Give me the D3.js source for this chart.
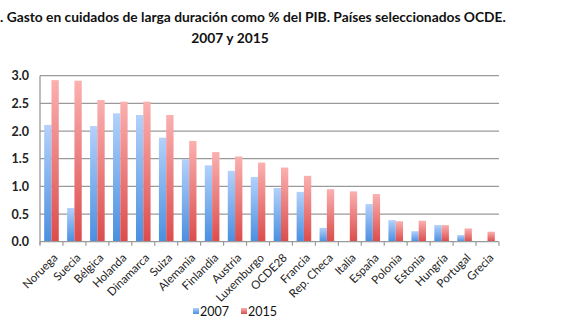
<!DOCTYPE html>
<html><head><meta charset="utf-8">
<script src="https://cdn.jsdelivr.net/npm/d3@7"></script>
<style>body{margin:0;background:#fff}svg{display:block}text{font-family:Lato,"Open Sans",sans-serif}</style>
</head><body><svg id="c" width="571" height="330"></svg>
<script>
const categories = ["Noruega","Suecia","Bélgica","Holanda","Dinamarca","Suiza","Alemania","Finlandia","Austria","Luxemburgo","OCDE28","Francia","Rep. Checa","Italia","España","Polonia","Estonia","Hungría","Portugal","Grecia"];
const values2007 = [2.11,0.61,2.09,2.32,2.29,1.88,1.49,1.38,1.28,1.17,0.97,0.90,0.25,null,0.68,0.39,0.19,0.30,0.12,null];
const values2015 = [2.92,2.91,2.56,2.53,2.53,2.29,1.82,1.62,1.54,1.43,1.34,1.19,0.95,0.91,0.86,0.37,0.38,0.30,0.24,0.18];
const yTicks = [0,0.5,1.0,1.5,2.0,2.5,3.0];
const seriesNames = ["2007","2015"];

const svg = d3.select("#c");
const L=40,R=499,T=75.7,B=241.7;
const x = d3.scaleBand().domain(categories).range([L,R]);
const y = d3.scaleLinear().domain([0,3]).range([B,T]);
const defs = svg.append("defs");
function grad(id,top,bot){const g=defs.append("linearGradient").attr("id",id).attr("x1",0).attr("x2",0).attr("y1",0).attr("y2",1);
 g.append("stop").attr("offset","0%").attr("stop-color",top);g.append("stop").attr("offset","100%").attr("stop-color",bot);}
grad("gb","#b3d1fb","#4a8fe0");
grad("gr","#fbb0b0","#dc4c4c");

svg.append("g").selectAll("line").data(yTicks.filter(d=>d>0)).join("line")
 .attr("x1",L).attr("x2",R).attr("y1",d=>y(d)).attr("y2",d=>y(d)).attr("stroke","#9a9a9a").attr("stroke-width",1.3);
svg.append("g").selectAll("text").data(yTicks).join("text")
 .attr("x",29).attr("y",d=>y(d)+4.5).attr("text-anchor","end").attr("font-size",12.5).attr("font-weight","bold").attr("fill","#222")
 .text(d=>d.toFixed(1));
const bw=7.3;
const g1=svg.append("g");
categories.forEach((c,i)=>{
 const cx=x(c)+x.bandwidth()/2;
 if(values2007[i]!=null) g1.append("rect").attr("x",cx-bw).attr("width",bw).attr("y",y(values2007[i])).attr("height",B-y(values2007[i])).attr("fill","url(#gb)");
 if(values2015[i]!=null) g1.append("rect").attr("x",cx).attr("width",bw).attr("y",y(values2015[i])).attr("height",B-y(values2015[i])).attr("fill","url(#gr)");
});
svg.append("line").attr("x1",L).attr("x2",L).attr("y1",T).attr("y2",B+3).attr("stroke","#9a9a9a").attr("stroke-width",1.3);
svg.append("line").attr("x1",L).attr("x2",R).attr("y1",B).attr("y2",B).attr("stroke","#9a9a9a").attr("stroke-width",1.3);
svg.append("g").selectAll("line").data(d3.range(categories.length+1)).join("line")
 .attr("x1",i=>L+i*x.step()).attr("x2",i=>L+i*x.step()).attr("y1",B).attr("y2",B+4).attr("stroke","#9a9a9a").attr("stroke-width",1.2);
svg.append("g").selectAll("text").data(categories).join("text")
 .attr("transform",d=>`translate(${x(d)+x.bandwidth()/2+4},${B+14}) rotate(-45)`)
 .attr("text-anchor","end").attr("font-size",11.5).attr("fill","#222").attr("dy","0.35em").text(d=>d);
svg.append("text").attr("x",0).attr("y",22).attr("font-size",13.8).attr("font-weight","bold").attr("fill","#111")
 .text(". Gasto en cuidados de larga duración como % del PIB. Países seleccionados OCDE.");
svg.append("text").attr("x",230).attr("y",43).attr("text-anchor","middle").attr("font-size",13.8).attr("font-weight","bold").attr("fill","#111").text("2007 y 2015");
const lg=svg.append("g");
[["gb",193,200],["gr",241,248]].forEach(([g,sx,tx],i)=>{
 lg.append("rect").attr("x",sx).attr("y",308).attr("width",6).attr("height",6).attr("fill",`url(#${g})`);
 lg.append("text").attr("x",tx).attr("y",316).attr("font-size",12.5).attr("fill","#111").text(seriesNames[i]);
});
</script></body></html>
